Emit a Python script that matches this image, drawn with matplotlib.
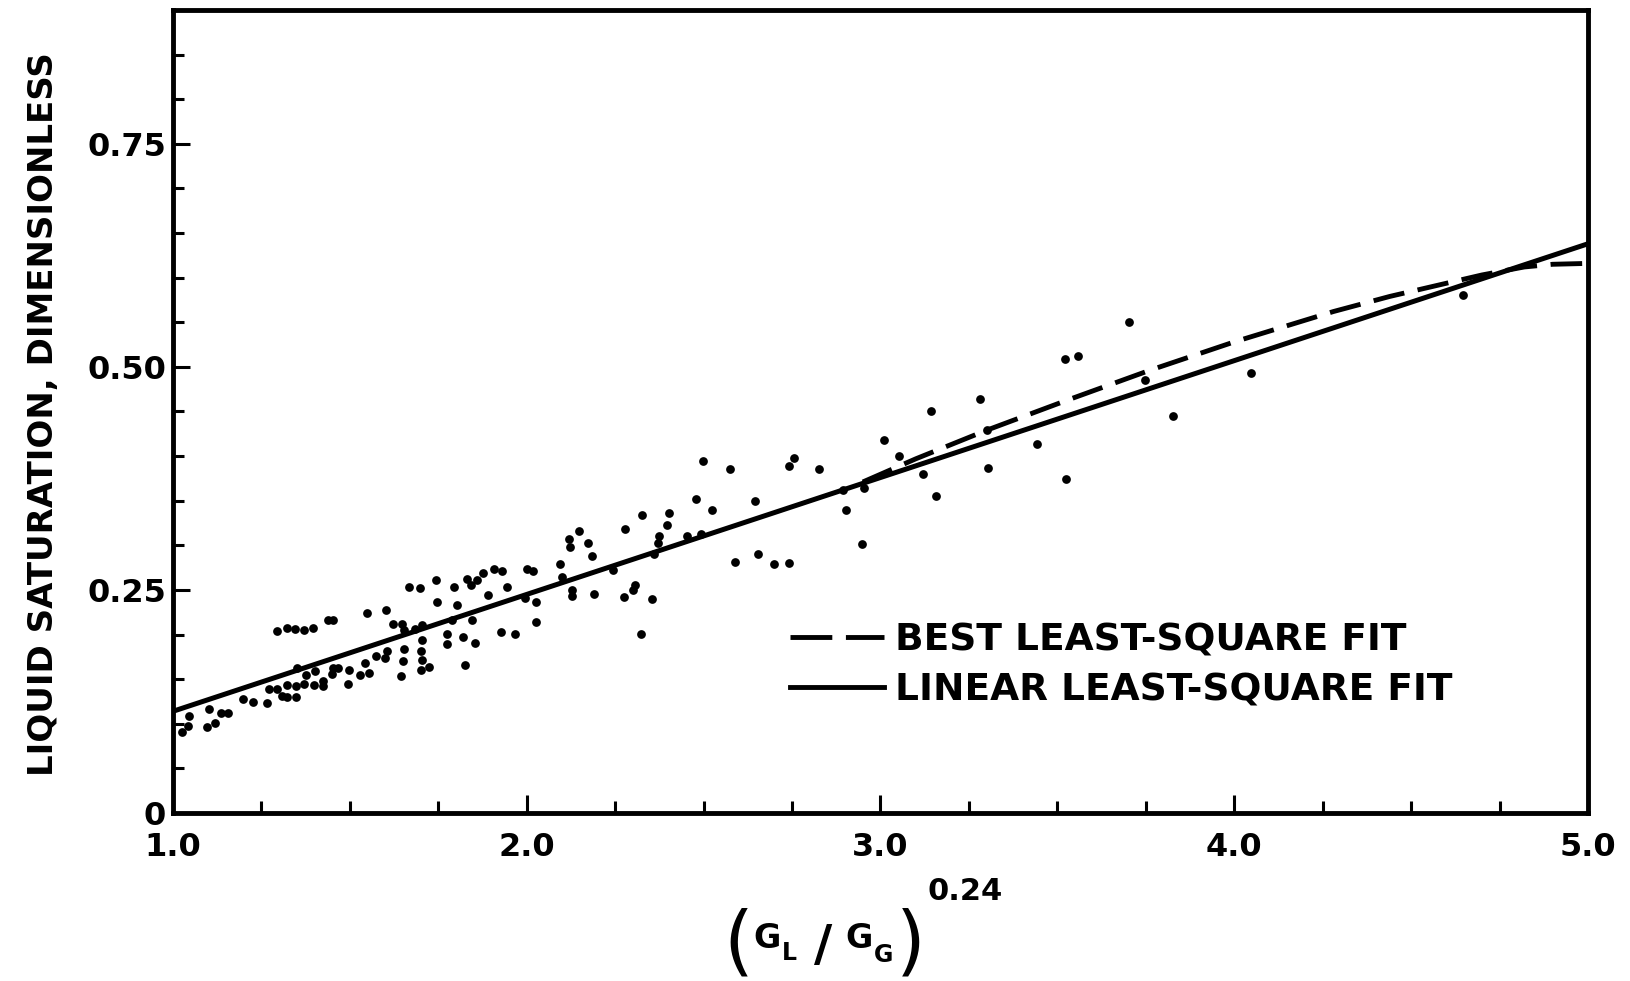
import numpy as np
import matplotlib
matplotlib.use("Agg")
import matplotlib.pyplot as plt
from matplotlib.lines import Line2D

# data points: (G_L/G_G)^0.24 vs liquid saturation
x_pts = [1.025, 1.043, 1.046, 1.095, 1.119, 1.103, 1.135, 1.156, 1.199, 1.227,
         1.267, 1.270, 1.293, 1.307, 1.321, 1.323, 1.347, 1.347, 1.350, 1.370,
         1.375, 1.399, 1.401, 1.425, 1.425, 1.449, 1.451, 1.467, 1.496, 1.497,
         1.529, 1.554, 1.543, 1.293, 1.321, 1.345, 1.371, 1.397, 1.439, 1.451,
         1.547, 1.602, 1.574, 1.599, 1.606, 1.621, 1.646, 1.653, 1.644, 1.651,
         1.653, 1.668, 1.698, 1.684, 1.703, 1.703, 1.700, 1.703, 1.700, 1.725,
         1.743, 1.747, 1.774, 1.775, 1.790, 1.794, 1.802, 1.821, 1.825, 1.846,
         1.854, 1.830, 1.841, 1.858, 1.875, 1.891, 1.907, 1.929, 1.926, 1.943,
         1.967, 1.995, 2.000, 2.017, 2.026, 2.026,
         2.094, 2.099, 2.120, 2.122, 2.127, 2.129, 2.149, 2.172, 2.184, 2.190,
         2.245, 2.275, 2.278, 2.300, 2.305, 2.323, 2.325, 2.353, 2.360, 2.372,
         2.375, 2.396, 2.402, 2.452, 2.478, 2.492, 2.499, 2.523, 2.574, 2.589,
         2.645, 2.655, 2.700, 2.742, 2.742, 2.755, 2.827, 2.893, 2.903, 2.947,
         2.952, 3.010,
         3.052, 3.121, 3.157, 3.143, 3.281, 3.302, 3.305, 3.441, 3.521, 3.557,
         3.524, 3.703, 3.748, 3.826, 4.047, 4.647]
y_pts = [0.091, 0.098, 0.109, 0.096, 0.101, 0.117, 0.112, 0.112, 0.128, 0.124,
         0.123, 0.139, 0.139, 0.131, 0.143, 0.130, 0.130, 0.142, 0.163, 0.145,
         0.155, 0.144, 0.159, 0.142, 0.148, 0.156, 0.163, 0.163, 0.145, 0.160,
         0.155, 0.157, 0.168, 0.204, 0.207, 0.206, 0.205, 0.207, 0.216, 0.216,
         0.224, 0.227, 0.176, 0.174, 0.182, 0.212, 0.212, 0.205, 0.153, 0.170,
         0.184, 0.253, 0.252, 0.206, 0.211, 0.194, 0.182, 0.172, 0.160, 0.164,
         0.261, 0.237, 0.201, 0.189, 0.216, 0.253, 0.233, 0.197, 0.166, 0.216,
         0.190, 0.262, 0.255, 0.261, 0.269, 0.244, 0.273, 0.271, 0.203, 0.253,
         0.201, 0.241, 0.274, 0.271, 0.236, 0.214,
         0.279, 0.265, 0.307, 0.298, 0.250, 0.243, 0.316, 0.303, 0.288, 0.245,
         0.272, 0.242, 0.318, 0.250, 0.256, 0.201, 0.334, 0.240, 0.290, 0.303,
         0.311, 0.323, 0.336, 0.310, 0.352, 0.313, 0.394, 0.340, 0.385, 0.281,
         0.350, 0.290, 0.279, 0.280, 0.389, 0.398, 0.385, 0.362, 0.340, 0.301,
         0.364, 0.418,
         0.400, 0.380, 0.355, 0.450, 0.464, 0.429, 0.387, 0.414, 0.509, 0.512,
         0.374, 0.550, 0.485, 0.445, 0.493, 0.581]

# linear least-square fit (straight line across the plot)
lin_x = [1.0, 5.0]
lin_y = [0.114, 0.638]

# best least-square fit (dashed, only visible where it leaves the straight line)
best_x = [2.95, 3.10, 3.30, 3.53, 3.76, 4.00, 4.28, 4.44, 4.57, 4.70, 4.82, 4.90, 5.00]
best_y = [0.371, 0.397, 0.429, 0.463, 0.496, 0.528, 0.562, 0.579, 0.591, 0.603, 0.612, 0.615, 0.616]

x_major = [1.0, 2.0, 3.0, 4.0, 5.0]
x_labels = ["1.0", "2.0", "3.0", "4.0", "5.0"]
y_major = [0, 0.25, 0.50, 0.75]
y_labels = ["0", "0.25", "0.50", "0.75"]

W, H = 1631, 981
fig = plt.figure(figsize=(W / 100, H / 100), dpi=100)
ax = fig.add_axes([173 / W, 1 - 813 / H, (1588 - 173) / W, (813 - 10) / H])

ax.plot(x_pts, y_pts, "o", color="black", ms=6.3, mew=0, zorder=3)
ax.plot(best_x, best_y, color="black", lw=3.5, dashes=(6.5, 2.8))
ax.plot(lin_x, lin_y, color="black", lw=3.6)

ax.set_xlim(1.0, 5.0)
ax.set_ylim(0, 0.9)

ax.set_xticks(x_major)
ax.set_xticklabels(x_labels)
ax.set_xticks(np.arange(1.25, 5.0, 0.25), minor=True)
ax.set_yticks(y_major)
ax.set_yticklabels(y_labels)
ax.set_yticks([0.05, 0.10, 0.15, 0.20, 0.30, 0.35, 0.40, 0.45, 0.55, 0.60, 0.65,
               0.70, 0.80, 0.85], minor=True)

ax.tick_params(axis="both", which="both", direction="in", width=2.2,
               top=False, right=False)
ax.tick_params(axis="x", which="major", length=13, pad=14, labelsize=23)
ax.tick_params(axis="x", which="minor", length=9)
ax.tick_params(axis="y", which="major", length=12, pad=5, labelsize=23)
ax.tick_params(axis="y", which="minor", length=8)
for lab in ax.get_xticklabels() + ax.get_yticklabels():
    lab.set_fontweight("bold")

for sp in ax.spines.values():
    sp.set_linewidth(3.5)

ax.set_ylabel("LIQUID SATURATION, DIMENSIONLESS", fontsize=24.5, fontweight="bold")
ax.yaxis.set_label_coords(-0.080, 0.497)

# legend handles drawn with a longer dash so two full dashes fit
handles = [Line2D([], [], color="black", lw=3.5, dashes=(8.6, 2.8)),
           Line2D([], [], color="black", lw=3.5)]
ax.legend(handles, ["BEST LEAST-SQUARE FIT", "LINEAR LEAST-SQUARE FIT"],
          loc="upper left", bbox_to_anchor=((790 - 173) / 1415, (813 - 622) / 803),
          frameon=False, prop={"weight": "bold", "size": 27},
          handlelength=2.5, handletextpad=0.3, labelspacing=0.38,
          borderpad=0, borderaxespad=0)


# x axis label (G_L / G_G)^0.24, built from pieces
def px_text(x, y, s, size, weight="bold"):
    fig.text(x / W, 1 - y / H, s, fontsize=size, fontweight=weight,
             ha="center", va="center")


px_text(738, 944, "(", 55, "normal")
px_text(767, 939, "G", 24)
px_text(789, 953, "L", 17)
px_text(823, 946, "/", 36)
px_text(859, 939, "G", 24)
px_text(884, 955, "G", 17)
px_text(911, 944, ")", 55, "normal")
px_text(965, 892, "0.24", 22)

fig.savefig("out.png", dpi=100)
